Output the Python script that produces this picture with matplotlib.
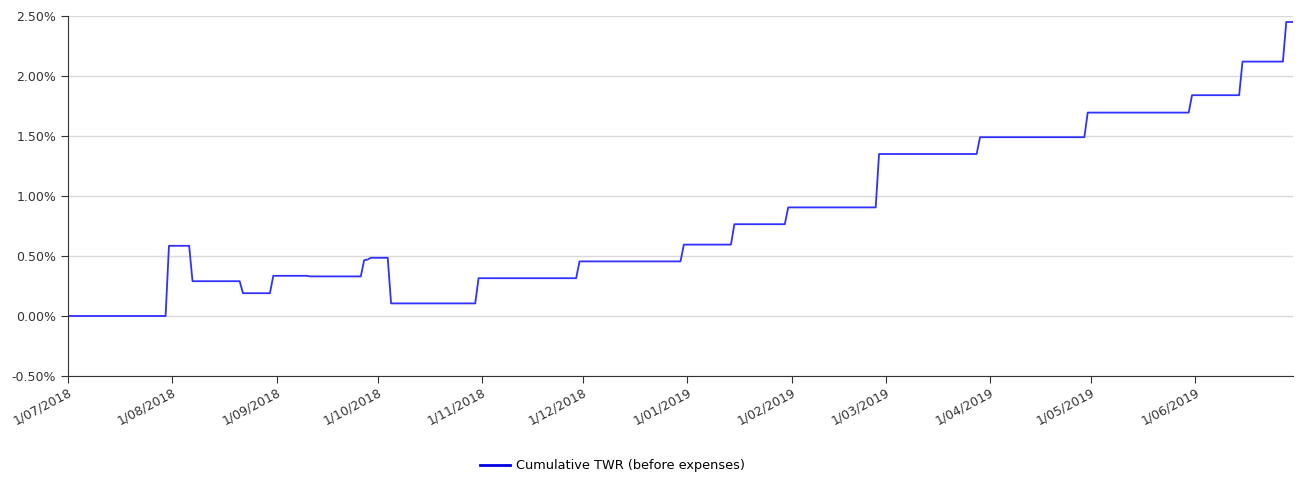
import numpy as np
import pandas as pd
import matplotlib
matplotlib.use("Agg")
import matplotlib.pyplot as plt
import matplotlib.dates as mdates
from matplotlib.lines import Line2D
from matplotlib.ticker import FuncFormatter, MultipleLocator

# Step points of the cumulative TWR series (date, percent)
dates = [
    "2018-07-01", "2018-07-30", "2018-07-31", "2018-08-06", "2018-08-07",
    "2018-08-21", "2018-08-22", "2018-08-30", "2018-08-31", "2018-09-10",
    "2018-09-11", "2018-09-26", "2018-09-27", "2018-09-28", "2018-09-29",
    "2018-10-04", "2018-10-05", "2018-10-30", "2018-10-31", "2018-11-29",
    "2018-11-30", "2018-12-30", "2018-12-31", "2019-01-14", "2019-01-15",
    "2019-01-30", "2019-01-31", "2019-02-26", "2019-02-27", "2019-03-28",
    "2019-03-29", "2019-04-29", "2019-04-30", "2019-05-30", "2019-05-31",
    "2019-06-14", "2019-06-15", "2019-06-27", "2019-06-28", "2019-06-30",
]
twr = [
    0.00, 0.00, 0.585, 0.585, 0.29,
    0.29, 0.19, 0.19, 0.335, 0.335,
    0.33, 0.33, 0.465, 0.47, 0.485,
    0.485, 0.105, 0.105, 0.315, 0.315,
    0.455, 0.455, 0.595, 0.595, 0.765,
    0.765, 0.905, 0.905, 1.35, 1.35,
    1.49, 1.49, 1.695, 1.695, 1.84,
    1.84, 2.12, 2.12, 2.45, 2.45,
]
label = "Cumulative TWR (before expenses)"

x = pd.to_datetime(dates)

fig = plt.figure(figsize=(13.01, 4.78), dpi=100)
ax = fig.add_axes([68 / 1301, 1 - 376 / 478, (1293 - 68) / 1301, 360 / 478])

ax.plot(x, twr, color="#3030ff", lw=1.3)

ax.set_xlim(pd.Timestamp("2018-07-01"), pd.Timestamp("2019-06-30"))
ax.set_ylim(-0.5, 2.5)
ax.yaxis.set_major_locator(MultipleLocator(0.5))
ax.yaxis.set_major_formatter(FuncFormatter(lambda v, p: f"{v:.2f}%"))

ax.xaxis.set_major_locator(mdates.MonthLocator())
ax.xaxis.set_major_formatter(
    FuncFormatter(lambda v, p: f"{mdates.num2date(v).day}/{mdates.num2date(v):%m/%Y}")
)

ax.grid(axis="y", color="#d9d9d9", lw=1)
ax.set_axisbelow(True)
for s in ["top", "right"]:
    ax.spines[s].set_visible(False)
for s in ["left", "bottom"]:
    ax.spines[s].set_color("#333333")
ax.tick_params(axis="both", direction="out", length=5, color="#333333",
               labelsize=9, labelcolor="#333333")
ax.tick_params(axis="x", pad=2)
for t in ax.get_xticklabels():
    t.set_rotation(28)
    t.set_ha("right")
    t.set_va("top")
    t.set_rotation_mode("anchor")

handle = Line2D([], [], color="#0000e0", lw=2)
fig.legend([handle], [label], loc="center", bbox_to_anchor=(0.471, 1 - 466 / 478),
           frameon=False, fontsize=9.3, handlelength=2.3, handletextpad=0.5)

fig.savefig("out.png", dpi=100)
